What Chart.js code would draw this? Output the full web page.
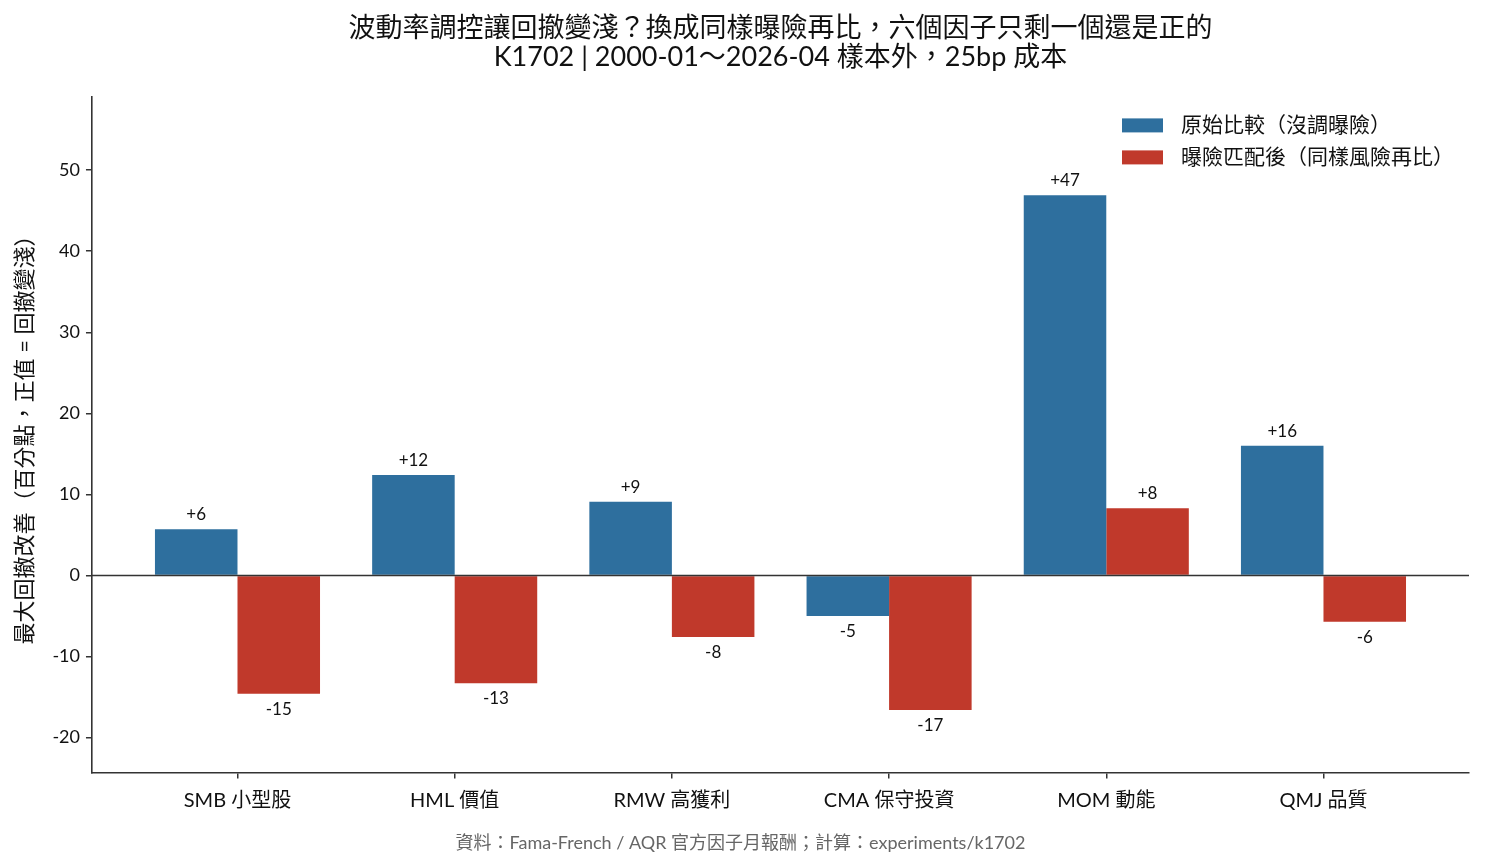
<!DOCTYPE html>
<html>
<head>
<meta charset="utf-8">
<script src="https://cdn.jsdelivr.net/npm/chart.js@4.4.1/dist/chart.umd.min.js"></script>
<style>
  html, body { margin: 0; padding: 0; background: #fff; }
  #wrap { width: 1485px; height: 866px; }
</style>
</head>
<body>
<div id="wrap"><canvas id="chart"></canvas></div>
<script>
const factors = ['SMB 小型股', 'HML 價值', 'RMW 高獲利', 'CMA 保守投資', 'MOM 動能', 'QMJ 品質'];
const rawValues = [5.7, 12.4, 9.1, -5.0, 46.9, 16.0];
const matchedValues = [-14.6, -13.3, -7.6, -16.6, 8.3, -5.7];
const yTicks = [-20, -10, 0, 10, 20, 30, 40, 50];
const seriesNames = ['原始比較（沒調曝險）', '曝險匹配後（同樣風險再比）'];

const FONT = 'Lato, "Noto Sans CJK TC", sans-serif';
const BLUE = '#2e6f9e';
const RED = '#c0392b';
const INK = '#333333';

const toPoints = vals => vals.map((v, i) => ({ x: i, y: v }));

// value labels above / below each bar
const barLabels = {
    id: 'barLabels',
    afterDatasetsDraw(chart) {
        const ctx = chart.ctx;
        ctx.save();
        ctx.font = '17px ' + FONT;
        ctx.fillStyle = '#111';
        ctx.textAlign = 'center';
        chart.data.datasets.forEach((ds, di) => {
            chart.getDatasetMeta(di).data.forEach((bar, i) => {
                const v = ds.data[i].y;
                const txt = (v >= 0 ? '+' : '') + Math.round(v);
                if (v >= 0) {
                    ctx.textBaseline = 'bottom';
                    ctx.fillText(txt, bar.x, bar.y - 6);
                } else {
                    ctx.textBaseline = 'top';
                    ctx.fillText(txt, bar.x, bar.y + 7);
                }
            });
        });
        ctx.restore();
    }
};

// zero line drawn over the bars
const zeroLine = {
    id: 'zeroLine',
    afterDatasetsDraw(chart) {
        const { ctx, chartArea, scales } = chart;
        const y = scales.y.getPixelForValue(0);
        ctx.save();
        ctx.strokeStyle = INK;
        ctx.lineWidth = 1.6;
        ctx.beginPath();
        ctx.moveTo(chartArea.left, y);
        ctx.lineTo(chartArea.right, y);
        ctx.stroke();
        ctx.restore();
    }
};

// legend in the upper right of the plot, stacked vertically
const innerLegend = {
    id: 'innerLegend',
    afterDraw(chart) {
        const { ctx, chartArea } = chart;
        const x0 = chartArea.right - 347;
        let y = chartArea.top + 29;
        ctx.save();
        ctx.font = '21px ' + FONT;
        ctx.textBaseline = 'middle';
        ctx.textAlign = 'left';
        chart.data.datasets.forEach(ds => {
            ctx.fillStyle = ds.backgroundColor;
            ctx.fillRect(x0, y - 7, 41, 14);
            ctx.fillStyle = '#111';
            ctx.fillText(ds.label, x0 + 59, y);
            y += 32;
        });
        ctx.restore();
    }
};

new Chart(document.getElementById('chart'), {
    type: 'bar',
    data: {
        datasets: [
            { label: seriesNames[0], data: toPoints(rawValues), backgroundColor: BLUE },
            { label: seriesNames[1], data: toPoints(matchedValues), backgroundColor: RED }
        ]
    },
    options: {
        responsive: true,
        maintainAspectRatio: false,
        animation: false,
        categoryPercentage: 0.76,
        barPercentage: 1.0,
        layout: { padding: { left: 12, right: 16, top: 0, bottom: 0 } },
        plugins: {
            legend: { display: false },
            tooltip: { enabled: false },
            title: {
                display: true,
                fullSize: false,
                text: ['波動率調控讓回撤變淺？換成同樣曝險再比，六個因子只剩一個還是正的',
                       'K1702 | 2000-01～2026-04 樣本外，25bp 成本'],
                color: '#111',
                font: { family: FONT, size: 27, weight: 'normal', lineHeight: 1.1 },
                padding: { top: 13, bottom: 24 }
            },
            subtitle: {
                display: true,
                position: 'bottom',
                text: '資料：Fama-French / AQR 官方因子月報酬；計算：experiments/k1702',
                color: '#666',
                font: { family: FONT, size: 18 },
                padding: { top: 10, bottom: 12 }
            }
        },
        scales: {
            x: {
                type: 'linear',
                min: -0.67,
                max: 5.67,
                offset: false,
                afterBuildTicks: axis => {
                    axis.ticks = factors.map((f, i) => ({ value: i }));
                },
                ticks: {
                    color: '#111',
                    font: { family: FONT, size: 20 },
                    padding: 10,
                    callback: v => factors[v]
                },
                grid: {
                    offset: false,
                    drawOnChartArea: false,
                    color: INK,
                    tickLength: 6,
                    lineWidth: 1.5
                },
                border: { display: true, color: INK, width: 1.6 }
            },
            y: {
                min: -24.3,
                max: 59.1,
                afterBuildTicks: axis => {
                    axis.ticks = yTicks.map(v => ({ value: v }));
                },
                ticks: {
                    color: '#111',
                    font: { family: FONT, size: 18 },
                    padding: 6
                },
                grid: {
                    drawOnChartArea: false,
                    color: INK,
                    tickLength: 6,
                    lineWidth: 1.5
                },
                border: { display: true, color: INK, width: 1.6 },
                title: {
                    display: true,
                    text: '最大回撤改善（百分點，正值 = 回撤變淺）',
                    color: '#111',
                    font: { family: FONT, size: 22 },
                    padding: { top: 0, bottom: 8 }
                }
            }
        }
    },
    plugins: [barLabels, zeroLine, innerLegend]
});
</script>
</body>
</html>
